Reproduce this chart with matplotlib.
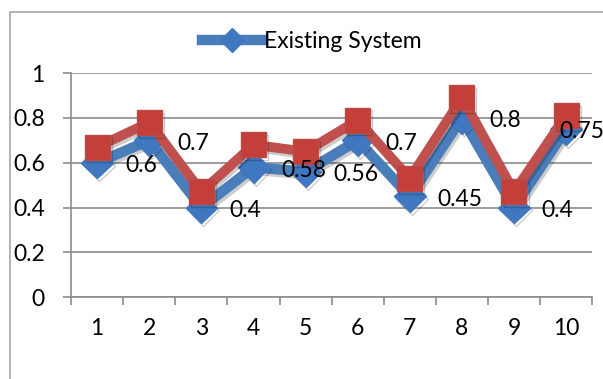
import matplotlib
matplotlib.use("Agg")
import matplotlib.pyplot as plt
from matplotlib.patches import Rectangle
from matplotlib.lines import Line2D
import matplotlib.patheffects as pe

plt.rcParams["font.family"] = ["Lato", "DejaVu Sans"]

runs = [1, 2, 3, 4, 5, 6, 7, 8, 9, 10]
existing = [0.6, 0.7, 0.4, 0.58, 0.56, 0.7, 0.45, 0.8, 0.4, 0.75]
proposed = [0.67, 0.78, 0.47, 0.68, 0.65, 0.79, 0.53, 0.89, 0.47, 0.81]
y_ticks = [0, 0.2, 0.4, 0.6, 0.8, 1]
y_labels = ["0", "0.2", "0.4", "0.6", "0.8", "1"]

BLUE = "#4A7EBB"
RED = "#C0504D"
GRID = "#8C8C8C"
FS = 16.5

fig = plt.figure(figsize=(6.03, 3.79), dpi=100)
ax = fig.add_axes([0.118, 0.216, 0.864, 0.591])

# chart-area frame
fig.patches.append(Rectangle((10 / 603, -0.1), 1.2, 1 - 12 / 379 + 0.1,
                             transform=fig.transFigure, fill=False,
                             edgecolor="#A6A6A6", lw=1.2))

shadow = [pe.SimpleLineShadow(offset=(1.5, -2), alpha=0.2), pe.Normal()]
ax.plot(runs, existing, color=BLUE, lw=7.5, marker="D", ms=16,
        mfc="#3F77C0", mec="#3F77C0", solid_joinstyle="miter",
        path_effects=shadow, zorder=3)
ax.plot(runs, proposed, color=RED, lw=7, marker="s", ms=18,
        mfc="#C43E3A", mec="#B84A47", mew=1, solid_joinstyle="miter",
        path_effects=shadow, zorder=4)

for i, (x, v) in enumerate(zip(runs, existing)):
    dx = 20 if i < len(runs) - 1 else -5
    ax.annotate(f"{v:g}", (x, v), xytext=(dx, -2), textcoords="offset points",
                ha="left", va="center", fontsize=FS, color="black", zorder=5)

ax.set_xlim(0.5, 10.5)
ax.set_ylim(0, 1)
ax.set_yticks(y_ticks)
ax.set_yticklabels(y_labels, fontsize=FS)
ax.set_xticks(runs)
ax.set_xticklabels([str(r) for r in runs], fontsize=FS)
ax.set_xticks([r + 0.5 for r in range(0, 11)], minor=True)
ax.tick_params(axis="x", which="major", length=0, pad=15)
ax.tick_params(axis="x", which="minor", length=6, color=GRID, width=1.2)
ax.tick_params(axis="y", length=6, color=GRID, width=1.2, pad=13)
ax.yaxis.grid(True, color=GRID, lw=1.2)
ax.set_axisbelow(True)
for s in ["top", "right"]:
    ax.spines[s].set_visible(False)
for s in ["left", "bottom"]:
    ax.spines[s].set_color(GRID)
    ax.spines[s].set_linewidth(1.2)

handle = Line2D([], [], color=BLUE, lw=7.5, marker="D", ms=12,
                mfc="#3F77C0", mec="#3F77C0")
fig.legend([handle], ["Existing System"], loc="center",
           bbox_to_anchor=(312 / 603, 1 - 42 / 379), frameon=False,
           fontsize=FS, handlelength=2.6, handletextpad=0.1)

fig.savefig("out.png", dpi=100)
